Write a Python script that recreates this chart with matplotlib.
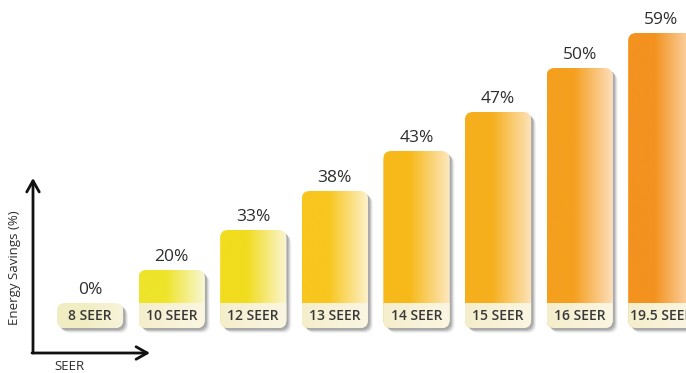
import numpy as np
import matplotlib.pyplot as plt
from matplotlib.patches import FancyBboxPatch
from matplotlib.colors import LinearSegmentedColormap

plt.rcParams['font.family'] = ['Open Sans', 'DejaVu Sans']

# ----------------- data -----------------
seer_labels = ['8 SEER', '10 SEER', '12 SEER', '13 SEER', '14 SEER', '15 SEER', '16 SEER', '19.5 SEER']
savings = [0, 20, 33, 38, 43, 47, 50, 59]
# drawn bar heights as they appear in the picture (arbitrary units, no y ticks)
bar_heights = [25, 58, 98, 137, 177, 216, 260, 295]
dark_colors = ['#f1edc2', '#eee42a', '#f1dc1e', '#f8c61e', '#f7b91a', '#f6af1c', '#f59f1e', '#f3921e']
pale_colors = ['#f7f4dc', '#f9f7da', '#fbf5d4', '#fdf2cc', '#fde8c0', '#fde4bc', '#fde0c0', '#fcdcb8']

band_h = 25      # height of the cream label strip at the bottom of each bar
bar_w = 0.81
px_per_x = 81.6  # pixels per category step

fig = plt.figure(figsize=(6.86, 3.73), dpi=100)
ax = fig.add_axes([0, 0, 1, 1])
ax.axis('off')

r = 8 / px_per_x
aspect = px_per_x


def rounded(x0, y0, w, h, **kw):
    return FancyBboxPatch((x0, y0), w, h,
                          boxstyle=f'round,pad=0,rounding_size={r}',
                          mutation_aspect=aspect, **kw)


ramp = np.linspace(0, 1, 256)[None, :]
band_cmap = LinearSegmentedColormap.from_list('band', ['#f5eecc', '#faf6e2'])

for i, (lab, val, h) in enumerate(zip(seer_labels, savings, bar_heights)):
    x0 = i - bar_w / 2
    # soft drop shadow
    for k, a in enumerate([0.08, 0.12, 0.18, 0.22]):
        off = 5 - k
        sh = rounded(x0 + off / px_per_x, -off, bar_w, h,
                     facecolor='#505050', edgecolor='none', alpha=a, zorder=1)
        ax.add_patch(sh)

    clip = rounded(x0, 0, bar_w, h, facecolor='white', edgecolor='none', zorder=1.5)
    ax.add_patch(clip)

    cmap = LinearSegmentedColormap.from_list(
        f'g{i}', [(0, dark_colors[i]), (0.4, dark_colors[i]), (1, pale_colors[i])])
    im = ax.imshow(ramp, cmap=cmap, aspect='auto', extent=(x0, x0 + bar_w, 0, h),
                   interpolation='bilinear', zorder=2)
    im.set_clip_path(clip)

    if h > band_h:
        bim = ax.imshow(ramp, cmap=band_cmap, aspect='auto',
                        extent=(x0, x0 + bar_w, 0, band_h),
                        interpolation='bilinear', zorder=2.5)
        bim.set_clip_path(clip)

    ax.text(i, band_h / 2, lab, ha='center', va='center', fontsize=10,
            fontweight='semibold', color='#383838', zorder=4)
    ax.text(i, h + 5, f'{val}%', ha='center', va='bottom', fontsize=12.5,
            color='#2e2e2e', zorder=4)

ax.set_xlim(-90 / px_per_x, (686 - 90) / px_per_x)
ax.set_ylim(-45, 328)

# axis arrows
arrow = dict(arrowstyle='->,head_length=0.8,head_width=0.45', lw=2, color='#111111',
             shrinkA=0, shrinkB=0)
ax.annotate('', xy=(33 / 686, 1 - 178 / 373), xytext=(33 / 686, 1 - 353 / 373),
            xycoords='axes fraction', arrowprops=arrow)
ax.annotate('', xy=(150 / 686, 1 - 353 / 373), xytext=(32 / 686, 1 - 353 / 373),
            xycoords='axes fraction', arrowprops=arrow)
ax.text(15 / 686, 1 - 268 / 373, 'Energy Savings (%)', rotation=90, ha='center', va='center',
        fontsize=9.5, color='#2e2e2e', transform=ax.transAxes)
ax.text(69 / 686, 1 - 366 / 373, 'SEER', ha='center', va='center',
        fontsize=9.5, color='#2e2e2e', transform=ax.transAxes)

fig.savefig('out.png', dpi=100)
